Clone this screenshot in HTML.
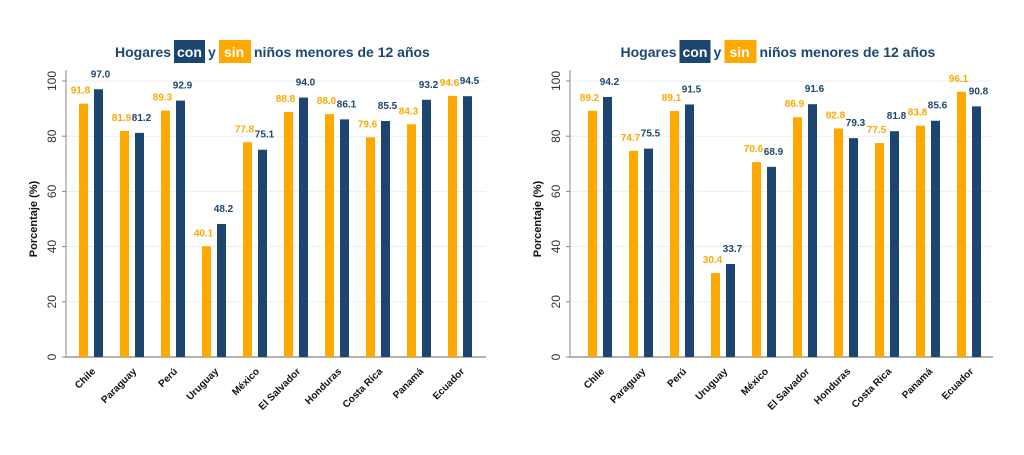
<!DOCTYPE html>
<html><head><meta charset="utf-8"><style>
body{margin:0;background:#fff;font-family:"Liberation Sans",sans-serif}
svg{display:block}
</style></head><body>
<svg id="c" width="1024" height="455"></svg>
<script>
const categories=["Chile","Paraguay","Perú","Uruguay","México","El Salvador","Honduras","Costa Rica","Panamá","Ecuador"];
const leftSin=[91.8,81.9,89.3,40.1,77.8,88.8,88.0,79.6,84.3,94.6];
const leftCon=[97.0,81.2,92.9,48.2,75.1,94.0,86.1,85.5,93.2,94.5];
const rightSin=[89.2,74.7,89.1,30.4,70.6,86.9,82.8,77.5,83.8,96.1];
const rightCon=[94.2,75.5,91.5,33.7,68.9,91.6,79.3,81.8,85.6,90.8];
const yTicks=[0,20,40,60,80,100];
const ORANGE="#FFA800",NAVY="#1C4670";
const svg=document.getElementById('c');
const NS="http://www.w3.org/2000/svg";
function mk(tag,at,parent){const e=document.createElementNS(NS,tag);for(const k in at)e.setAttribute(k,at[k]);(parent||svg).appendChild(e);return e;}
function chart(prefix,x0,x1,firstBar,sin,con){
  const g=mk('g',{});
  
  
  const y=v=>357-v*2.76;
  const bx=i=>firstBar+i*41;
  yTicks.forEach(t=>{
    if(t>0){const gl=mk('line',{x1:x0,x2:x1,y1:y(t),y2:y(t),stroke:'#e8f0f2','stroke-width':1},g);
    }
    const tk=mk('line',{x1:x0-4,x2:x0,y1:y(t),y2:y(t),stroke:'#888'},g);
    
    const tl=mk('text',{x:0,y:0,transform:`translate(${x0-10},${y(t)}) rotate(-90)`,'text-anchor':'middle','font-size':12,fill:'#333'},g);
    tl.textContent=t;
    
  });
  const ax=mk('line',{x1:x0,x2:x0,y1:70,y2:357,stroke:'#888'},g);
  
  const xa=mk('line',{x1:x0,x2:x1,y1:357,y2:357,stroke:'#999','stroke-width':1.5},g);
  
  const yt=mk('text',{transform:`translate(${x0-29},${y(50)}) rotate(-90)`,'text-anchor':'middle','font-size':11,'font-weight':'bold',fill:'#111'},g);
  yt.textContent='Porcentaje (%)';
  
  categories.forEach((c,i)=>{
    [[sin[i],ORANGE,0,'sin',-3,-10],[con[i],NAVY,15,'con',2,-12]].forEach(([v,col,off,s,lx,ly])=>{
      const r=mk('rect',{x:bx(i)+off,y:y(v),width:9,height:357-y(v),fill:col},g);
      
      
      const l=mk('text',{x:bx(i)+off+4.5+lx,y:y(v)+ly,'text-anchor':'middle','font-size':10,'font-weight':'bold',fill:col},g);
      l.textContent=v.toFixed(1);
      
    });
    const cl=mk('text',{transform:`translate(${bx(i)+17},${372}) rotate(-45)`,'text-anchor':'end','font-size':10,'font-weight':'bold',fill:'#111'},g);
    cl.textContent=c;
    
  });
  const cx=(x0+x1)/2;
  const tg=mk('g',{},g);
  
  const base=cx-161;
  mk('rect',{x:base+59,y:40,width:31,height:23,fill:NAVY},tg);
  mk('rect',{x:base+104,y:40,width:32,height:23,fill:ORANGE},tg);
  const t=mk('text',{x:base,y:57,'font-size':14,'font-weight':'bold',fill:NAVY},tg);
  t.innerHTML='Hogares<tspan x="'+(base+62)+'" fill="#fff">con</tspan><tspan x="'+(base+93)+'">y</tspan><tspan x="'+(base+109)+'" fill="#fff">sin</tspan><tspan x="'+(base+139)+'">niños menores de 12 años</tspan>';
}
chart('left',66,486,79,leftSin,leftCon);
chart('right',570,993,588,rightSin,rightCon);
</script>
</body></html>
